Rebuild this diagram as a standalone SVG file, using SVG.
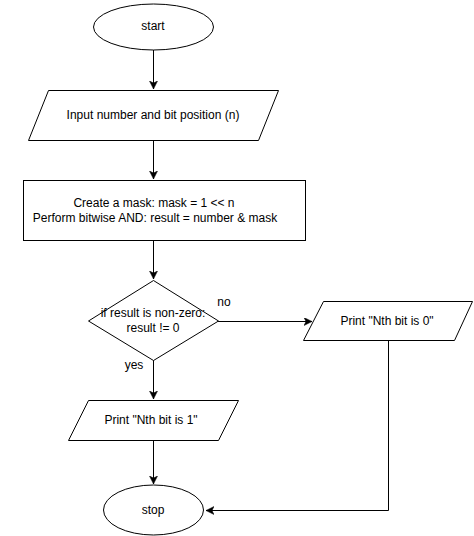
<svg xmlns="http://www.w3.org/2000/svg" width="474" height="536" viewBox="0 0 474 536">
<style>
.s{fill:#fff;stroke:#000;stroke-width:1}
.t{font-family:"Liberation Sans",Arial,sans-serif;font-size:12px;fill:#000;text-anchor:middle}
.e{fill:none;stroke:#000;stroke-width:1}
</style>
<defs>
<marker id="a" markerWidth="10" markerHeight="10" refX="8" refY="4" orient="auto" markerUnits="userSpaceOnUse">
<path d="M0,0 L8,4 L0,8 L2,4 z" fill="#000" stroke="#000" stroke-width="0.5"/>
</marker>
</defs>
<rect width="474" height="536" fill="#fff"/>
<g id="connectors">
<path class="e" d="M153.5,50 V89" marker-end="url(#a)"/>
<path class="e" d="M153.5,140 V179" marker-end="url(#a)"/>
<path class="e" d="M153.5,240 V279" marker-end="url(#a)"/>
<path class="e" d="M218,321.5 H312" marker-end="url(#a)"/>
<path class="e" d="M153.5,360 V399" marker-end="url(#a)"/>
<path class="e" d="M153.5,440 V484" marker-end="url(#a)"/>
<path class="e" d="M388.5,340 V510.5 H206" marker-end="url(#a)"/>
<text class="t" x="224" y="306">no</text>
<text class="t" x="134" y="369">yes</text>
</g>
<g id="start">
<ellipse class="s" cx="153.5" cy="27" rx="60" ry="23"/>
<text class="t" x="153" y="30">start</text>
</g>
<g id="input">
<polygon class="s" points="48.5,90.5 278.5,90.5 258.5,140.5 28.5,140.5"/>
<text class="t" x="153" y="119">Input number and bit position (n)</text>
</g>
<g id="process">
<rect class="s" x="23.5" y="180.5" width="282" height="60"/>
<text class="t" x="154" y="207">Create a mask: mask = 1 &lt;&lt; n</text>
<text class="t" x="155" y="222">Perform bitwise AND: result = number &amp; mask</text>
</g>
<g id="decision">
<polygon class="s" points="153.5,280.5 218.5,321 153.5,360.5 88.5,321"/>
<text class="t" x="153" y="317">if result is non-zero:</text>
<text class="t" x="153" y="332">result != 0</text>
</g>
<g id="print0">
<polygon class="s" points="323.5,301.5 472.5,301.5 454.5,340.5 303.5,340.5"/>
<text class="t" x="387" y="325">Print "Nth bit is 0"</text>
</g>
<g id="print1">
<polygon class="s" points="88.5,400.5 238.5,400.5 218.5,440.5 68.5,440.5"/>
<text class="t" x="151" y="424">Print "Nth bit is 1"</text>
</g>
<g id="stop">
<ellipse class="s" cx="153.5" cy="510" rx="50" ry="25"/>
<text class="t" x="153" y="514">stop</text>
</g>
</svg>
